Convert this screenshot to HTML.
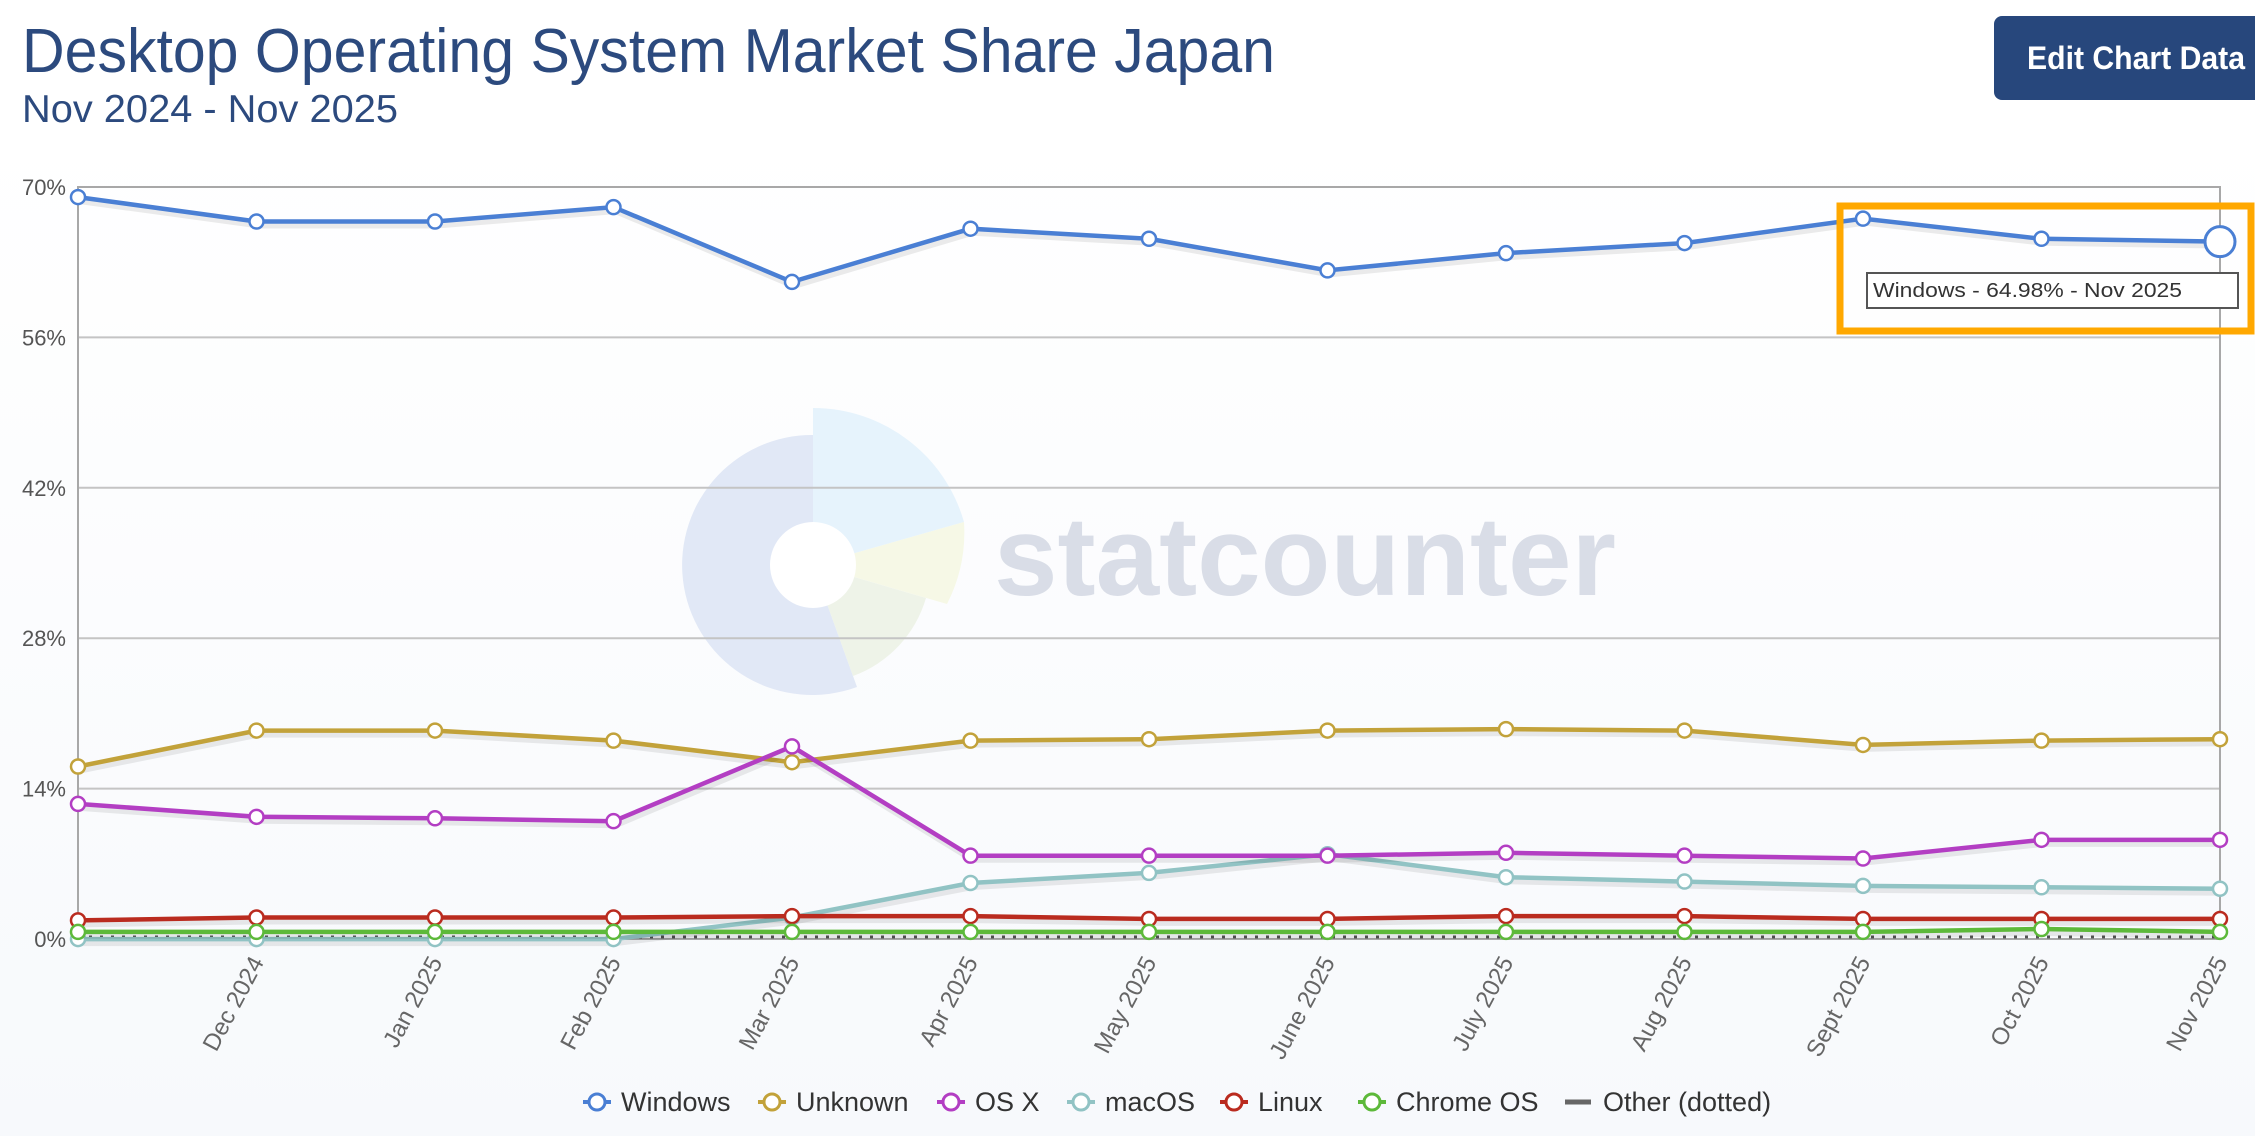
<!DOCTYPE html>
<html><head><meta charset="utf-8"><style>
html,body{margin:0;padding:0;background:#fff;}
body{width:2255px;height:1136px;overflow:hidden;position:relative;font-family:"Liberation Sans",sans-serif;}
</style></head><body>
<svg width="2255" height="1136" viewBox="0 0 2255 1136" xmlns="http://www.w3.org/2000/svg" style="position:absolute;left:0;top:0">
<defs>
<linearGradient id="bg" x1="0" y1="0" x2="0" y2="1"><stop offset="0" stop-color="#ffffff"/><stop offset="1" stop-color="#f7f9fc"/></linearGradient>
</defs>
<rect x="0" y="130" width="2255" height="1006" fill="url(#bg)"/>
<text x="22" y="72" font-size="62" fill="#2c4a7e" font-family="Liberation Sans, sans-serif" textLength="1253" lengthAdjust="spacingAndGlyphs">Desktop Operating System Market Share Japan</text>
<text x="22" y="122" font-size="39" fill="#2c4a7e" textLength="376" lengthAdjust="spacingAndGlyphs">Nov 2024 - Nov 2025</text>
<rect x="1994" y="16" width="270" height="84" rx="8" fill="#27477c"/>
<text x="2027" y="69" font-size="32" font-weight="bold" fill="#fff" textLength="218" lengthAdjust="spacingAndGlyphs">Edit Chart Data</text>
<g>
<path d="M813,565 L813,435 A130,130 0 1 0 857,687 Z" fill="#e1e8f6"/>
<path d="M813,565 L813,408 A157,157 0 0 1 964,522 Z" fill="#e6f3fc"/>
<path d="M813,565 L964,522 A157,157 0 0 1 947,604 Z" fill="#f6f8e6"/>
<path d="M813,565 L926,598 A118,118 0 0 1 853,676 Z" fill="#eef3e8"/>
<circle cx="813" cy="565" r="43" fill="#fff"/>
<text x="994" y="595" font-size="112" font-weight="bold" fill="#d9dde7" textLength="622" lengthAdjust="spacingAndGlyphs">statcounter</text>
</g>
<g id="grid" stroke="#c4c4c4" stroke-width="2"></g>
<rect x="78" y="187" width="2142" height="752" fill="none" stroke="#a8a8a8" stroke-width="2"/>
<g id="ylab" font-size="22" fill="#555" text-anchor="end"></g>
<g id="xlab" font-size="24" fill="#666" text-anchor="end"></g>
<g id="series"></g>
<rect x="1840" y="206" width="411" height="125" fill="none" stroke="#ffa800" stroke-width="7"/>
<rect x="1867" y="273" width="371" height="35" fill="#fff" stroke="#555" stroke-width="2"/>
<text x="1873" y="297" font-size="20" fill="#333" textLength="309" lengthAdjust="spacingAndGlyphs">Windows - 64.98% - Nov 2025</text>
<g id="legend" font-size="27" fill="#333"></g>
</svg>
<script>
var NS="http://www.w3.org/2000/svg";
function el(t,a,p,txt){var e=document.createElementNS(NS,t);for(var k in a)e.setAttribute(k,a[k]);if(txt)e.textContent=txt;(typeof p=="string"?document.getElementById(p):p).appendChild(e);return e;}
var x0=78,x1=2220,yT=187,yB=939;
for(var i=0;i<=5;i++){var y=yT+i*150.4;if(i>0&&i<5)el('line',{x1:x0,x2:x1,y1:y,y2:y},'grid');el('text',{x:66,y:y+8},'ylab',(70-14*i)+'%');}
var months=["Nov 2024","Dec 2024","Jan 2025","Feb 2025","Mar 2025","Apr 2025","May 2025","June 2025","July 2025","Aug 2025","Sept 2025","Oct 2025","Nov 2025"];
var step=(x1-x0)/12;
for(var i=1;i<13;i++){var x=x0+i*step;el('text',{x:x+8,y:962,transform:'rotate(-62 '+(x+8)+' 962)'},'xlab',months[i]);}
function Y(d){return 187+(d-130)*1.438;}
var S=[
["#91c3c4",[653,653,653,653,638,614,607,594,610,613,616,617,618]],
["#ba2b1f",[640,638,638,638,637,637,639,639,637,637,639,639,639]],
["#5db93a",[648,648,648,648,648,648,648,648,648,648,648,646,648]],
["#c2a23a",[533,508,508,515,530,515,514,508,507,508,518,515,514]],
["#b33ec3",[559,568,569,571,519,595,595,595,593,595,597,584,584]],
["#4a7fd4",[137,154,154,144,196,159,166,188,176,169,152,166,168]]
];
var sg=document.getElementById('series');
el('line',{x1:x0,x2:x1,y1:937,y2:937,stroke:'#555','stroke-width':3,'stroke-dasharray':'3 8'},sg);
S.forEach(function(s,si){
 var pts=s[1].map(function(d,i){return (x0+i*step).toFixed(1)+','+Y(d).toFixed(1);}).join(' ');
 el('polyline',{points:pts,fill:'none',stroke:'rgba(0,0,0,0.08)','stroke-width':6,transform:'translate(2,4)'},sg);
 el('polyline',{points:pts,fill:'none',stroke:s[0],'stroke-width':4.5},sg);
 s[1].forEach(function(d,i){var big=(si==5&&i==12);el('circle',{cx:x0+i*step,cy:Y(d),r:big?15:7,fill:'#fff',stroke:s[0],'stroke-width':big?3:2.5},sg);});
});
var L=[["#4a7fd4",597,"Windows"],["#c2a23a",772,"Unknown"],["#b33ec3",951,"OS X"],["#91c3c4",1081,"macOS"],["#ba2b1f",1234,"Linux"],["#5db93a",1372,"Chrome OS"]];
L.forEach(function(l){el('line',{x1:l[1]-14,x2:l[1]+14,y1:1102,y2:1102,stroke:l[0],'stroke-width':4},'legend');el('circle',{cx:l[1],cy:1102,r:8,fill:'#fff',stroke:l[0],'stroke-width':3},'legend');el('text',{x:l[1]+24,y:1111},'legend',l[2]);});
el('line',{x1:1565,x2:1591,y1:1102,y2:1102,stroke:'#666','stroke-width':5},'legend');
el('text',{x:1603,y:1111},'legend','Other (dotted)');
</script>
</body></html>
